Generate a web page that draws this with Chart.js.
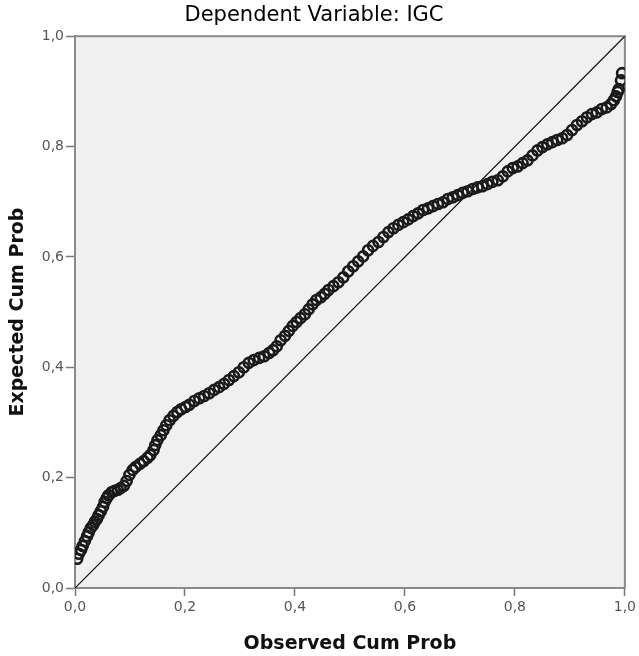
<!DOCTYPE html>
<html>
<head>
<meta charset="utf-8">
<script src="https://cdn.jsdelivr.net/npm/chart.js@4"></script>
<style>
  body{ margin:0; background:#fff; }
  canvas{ display:block; }
</style>
</head>
<body>
<canvas id="ppChart" width="639" height="656"></canvas>
<script>
// observed vs expected cumulative probability
const observed = [0.004,0.007,0.011,0.014,0.018,0.022,0.025,0.029,0.033,0.036,0.040,0.043,0.047,0.051,0.054,0.058,0.061,0.067,0.072,0.078,
  0.083,0.089,0.094,0.099,0.105,0.110,0.118,0.125,0.132,0.137,0.143,0.146,0.150,0.156,0.161,0.166,0.172,0.179,0.186,0.193,
  0.201,0.208,0.217,0.226,0.235,0.244,0.253,0.262,0.271,0.280,0.289,0.298,0.307,0.316,0.325,0.335,0.344,0.353,0.360,0.367,
  0.374,0.382,0.389,0.396,0.403,0.410,0.418,0.425,0.432,0.439,0.447,0.454,0.461,0.470,0.479,0.488,0.497,0.506,0.515,0.524,
  0.533,0.542,0.552,0.561,0.570,0.579,0.588,0.597,0.606,0.615,0.624,0.633,0.642,0.651,0.660,0.669,0.678,0.687,0.696,0.705,
  0.714,0.723,0.732,0.741,0.750,0.759,0.769,0.778,0.787,0.796,0.805,0.814,0.823,0.832,0.841,0.850,0.859,0.868,0.877,0.886,
  0.895,0.904,0.913,0.922,0.931,0.940,0.949,0.958,0.967,0.975,0.980,0.984,0.987,0.989,0.993,0.995];
const expected = [0.053,0.062,0.069,0.076,0.085,0.094,0.101,0.109,0.114,0.120,0.125,0.132,0.139,0.147,0.156,0.163,0.168,0.174,0.176,0.178,
  0.181,0.185,0.194,0.205,0.214,0.219,0.225,0.230,0.236,0.241,0.250,0.259,0.268,0.277,0.286,0.295,0.304,0.312,0.319,0.324,
  0.328,0.332,0.339,0.344,0.348,0.353,0.359,0.364,0.370,0.377,0.384,0.391,0.400,0.408,0.413,0.417,0.420,0.426,0.431,0.438,
  0.449,0.457,0.466,0.475,0.482,0.489,0.496,0.505,0.514,0.522,0.527,0.533,0.540,0.547,0.554,0.563,0.574,0.583,0.592,0.601,
  0.612,0.620,0.627,0.636,0.645,0.652,0.658,0.663,0.668,0.674,0.679,0.685,0.688,0.692,0.696,0.699,0.705,0.708,0.712,0.716,
  0.719,0.723,0.726,0.728,0.732,0.736,0.739,0.746,0.755,0.761,0.764,0.770,0.775,0.784,0.793,0.799,0.804,0.808,0.812,0.815,
  0.821,0.830,0.839,0.846,0.853,0.859,0.862,0.868,0.871,0.877,0.884,0.891,0.899,0.904,0.920,0.933];
const refLineX = [0, 1];
const refLineY = [0, 1];
const tickValues = [0, 0.2, 0.4, 0.6, 0.8, 1.0];

const titleText = "Dependent Variable: IGC";
const xTitle = "Observed Cum Prob";
const yTitle = "Expected Cum Prob";

// gray plot area + frame
const plotBg = {
  id:"plotBg",
  beforeDatasetsDraw(chart){
    const {ctx, chartArea:a} = chart;
    ctx.save();
    ctx.fillStyle = "#f0f0f0";
    ctx.fillRect(a.left, a.top, a.right-a.left, a.bottom-a.top);
    ctx.strokeStyle = "#8a8a8a";
    ctx.lineWidth = 2;
    ctx.strokeRect(a.left, a.top, a.right-a.left, a.bottom-a.top);
    ctx.restore();
  }
};

const fmt = v => v.toFixed(1).replace(".", ",");
const tickFont = { family:"DejaVu Sans", size:14 };
const axTitleFont = { family:"DejaVu Sans", size:19, weight:"bold" };

new Chart(document.getElementById("ppChart"), {
  type:"scatter",
  data:{
    datasets:[
      { data: observed.map((x,i)=>({x:x, y:expected[i]})),
        pointStyle:"circle", pointRadius:5, pointHoverRadius:5,
        borderColor:"#1a1a1a", backgroundColor:"rgba(0,0,0,0)", borderWidth:2.6, order:1 },
      { data: refLineX.map((x,i)=>({x:x, y:refLineY[i]})),
        showLine:true, pointRadius:0, borderColor:"#111", borderWidth:1.2, order:2 }
    ]
  },
  options:{
    responsive:false, animation:false,
    layout:{ padding:{ left:0, right:11, top:0, bottom:0 } },
    plugins:{
      legend:{ display:false }, tooltip:{ enabled:false },
      title:{ display:true, text:titleText, color:"#000",
        font:{ family:"DejaVu Sans", size:21, weight:"normal" }, padding:{ top:3, bottom:8 } }
    },
    scales:{
      x:{
        type:"linear", min:0, max:1,
        afterBuildTicks(s){ s.ticks = tickValues.map(v=>({value:v})); },
        afterFit(s){ s.height = 68; },
        ticks:{ callback:fmt, font:tickFont, color:"#555", padding:3, maxRotation:0 },
        grid:{ drawOnChartArea:false, tickLength:8, tickColor:"#777", tickWidth:1.5 },
        border:{ color:"#777", width:2 },
        title:{ display:true, text:xTitle, color:"#111", font:axTitleFont, padding:{ top:0, bottom:1 } }
      },
      y:{
        type:"linear", min:0, max:1,
        afterBuildTicks(s){ s.ticks = tickValues.map(v=>({value:v})); },
        afterFit(s){ s.width = 75; },
        ticks:{ callback:fmt, font:tickFont, color:"#555", padding:2 },
        grid:{ drawOnChartArea:false, tickLength:9, tickColor:"#777", tickWidth:1.5 },
        border:{ color:"#777", width:2 },
        title:{ display:true, text:yTitle, color:"#111", font:axTitleFont, padding:{ top:7, bottom:0 } }
      }
    }
  },
  plugins:[plotBg]
});
</script>
</body>
</html>
